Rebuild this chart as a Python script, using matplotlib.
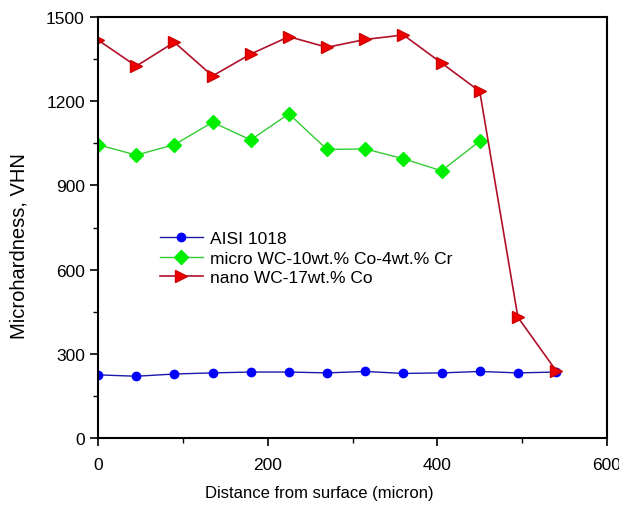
import matplotlib
matplotlib.use("Agg")
import matplotlib.pyplot as plt
from matplotlib.ticker import MultipleLocator

plt.rcParams["font.family"] = ["Liberation Sans", "DejaVu Sans"]

# Microhardness profiles vs. depth below the surface
dist_aisi = [0, 45, 90, 135, 180, 225, 270, 315, 360, 405, 450, 495, 540]
hv_aisi = [225, 220, 228, 232, 235, 235, 232, 237, 230, 232, 237, 232, 235]

dist_micro = [0, 45, 90, 135, 180, 225, 270, 315, 360, 405, 450]
hv_micro = [1045, 1008, 1045, 1125, 1062, 1155, 1028, 1030, 995, 952, 1058]

dist_nano = [0, 45, 90, 135, 180, 225, 270, 315, 360, 405, 450, 495, 540]
hv_nano = [1418, 1325, 1410, 1290, 1368, 1430, 1392, 1420, 1436, 1336, 1235, 430, 240]

fig = plt.figure(figsize=(6.19, 5.06), dpi=100)
# axes box: x 98..607 px, y 18..439 px
ax = fig.add_axes([98 / 619, 1 - 439 / 506, 509 / 619, 421 / 506])

ax.plot(dist_aisi, hv_aisi, color="#1a1aa8", lw=1.0, marker="o", ms=6,
        mfc="#0000ff", mec="#0000ff", label="AISI 1018")
ax.plot(dist_micro, hv_micro, color="#33cc33", lw=1.0, marker="D", ms=7,
        mfc="#00ee00", mec="#00ee00", label="micro WC-10wt.% Co-4wt.% Cr")
ax.plot(dist_nano, hv_nano, color="#b0102a", lw=1.2, marker=">", ms=9,
        mfc="#ee0000", mec="#cc0000", label="nano WC-17wt.% Co")

ax.set_xlim(0, 600)
ax.set_ylim(0, 1500)
ax.xaxis.set_major_locator(MultipleLocator(200))
ax.xaxis.set_minor_locator(MultipleLocator(100))
ax.yaxis.set_major_locator(MultipleLocator(300))
ax.yaxis.set_minor_locator(MultipleLocator(150))
ax.tick_params(which="major", direction="out", length=5.5, width=1.2, labelsize=12.5)
ax.tick_params(which="minor", direction="out", length=3.5, width=1.0)
ax.tick_params(axis="x", which="major", pad=8)
ax.tick_params(axis="y", which="major", pad=4)
for sp in ax.spines.values():
    sp.set_linewidth(1.5)

ax.set_xlabel("Distance from surface (micron)", fontsize=12)
ax.set_ylabel("Microhardness, VHN", fontsize=14.5)
ax.xaxis.set_label_coords(0.434, -0.112)
ax.yaxis.set_label_coords(-0.136, 0.458)

ax.legend(loc="upper left", bbox_to_anchor=(0.097, 0.52), frameon=False,
          fontsize=12.5, handlelength=2.5, handletextpad=0.4, labelspacing=0.25,
          borderpad=0.2)

fig.savefig("out.png", dpi=100)
